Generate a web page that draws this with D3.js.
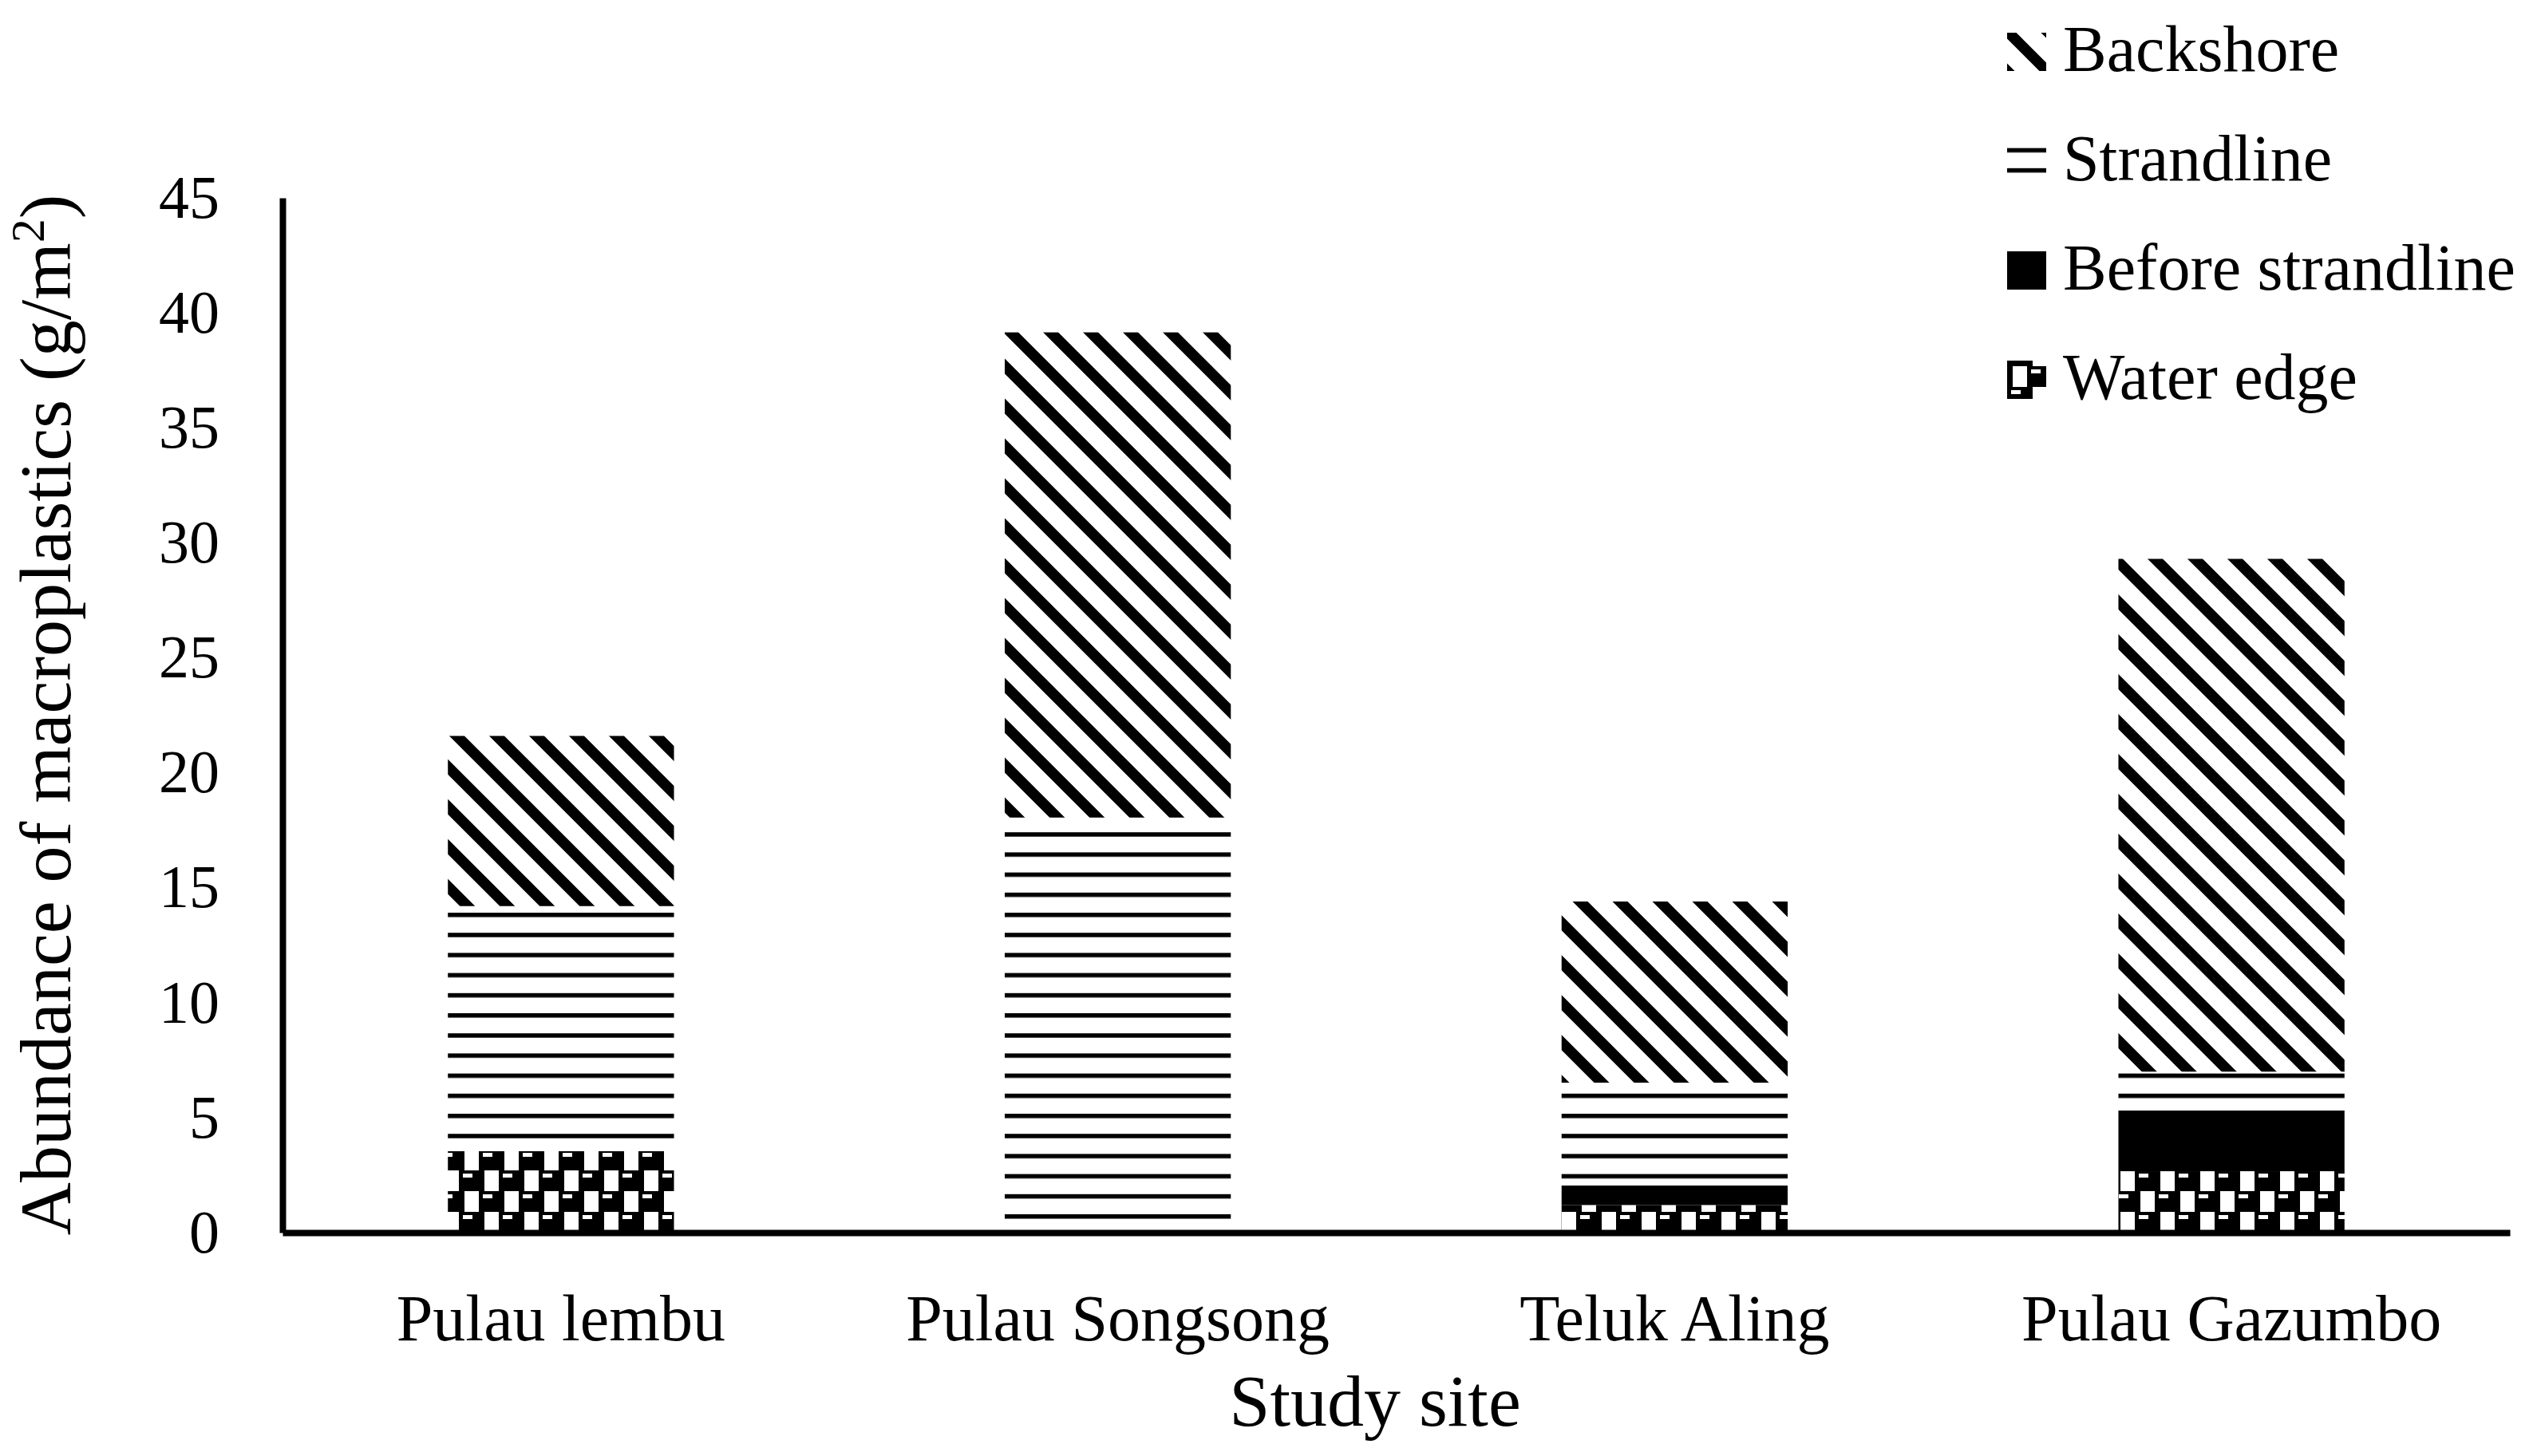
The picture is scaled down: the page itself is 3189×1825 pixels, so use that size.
<!DOCTYPE html>
<html>
<head>
<meta charset="utf-8">
<script src="https://cdn.jsdelivr.net/npm/d3@7"></script>
<style>
  body { margin: 0; background: #fff; }
  text { font-family: "Liberation Serif", "Times New Roman", serif; fill: #000; }
</style>
</head>
<body>
<div id="chart"></div>
<script>
// data (g/m2)
var sites = ["Pulau lembu", "Pulau Songsong", "Teluk Aling", "Pulau Gazumbo"];
var zones = ["Water edge", "Before strandline", "Strandline", "Backshore"];
var waterEdge = [3.54, 0, 1.2, 2.67];
var beforeStrandline = [0, 0, 0.85, 2.64];
var strandline = [10.66, 18.05, 4.47, 1.69];
var backshore = [7.4, 21.1, 7.88, 22.3];
var yTicks = [0, 5, 10, 15, 20, 25, 30, 35, 40, 45];

var width = 3189, height = 1825;
var margin = {top: 248, right: 44, bottom: 280, left: 354};

var svg = d3.select("#chart")
  .append("svg")
  .attr("width", width)
  .attr("height", height);

// fill patterns
var defs = svg.append("defs");

var pBack = defs.append("pattern")
  .attr("id", "pat-backshore")
  .attr("patternUnits", "userSpaceOnUse")
  .attr("width", 50).attr("height", 50);
pBack.append("rect").attr("width", 50).attr("height", 50).attr("fill", "#fff");
pBack.append("path")
  .attr("d", "M-10,-10L60,60M-10,40L10,60M40,-10L60,10")
  .attr("stroke", "#000")
  .attr("stroke-width", 13.5);

var pStrand = defs.append("pattern")
  .attr("id", "pat-strandline")
  .attr("patternUnits", "userSpaceOnUse")
  .attr("width", 50).attr("height", 25.2)
  .attr("y", 1545 - 23);
pStrand.append("rect").attr("width", 50).attr("height", 25.2).attr("fill", "#fff");
pStrand.append("rect").attr("y", 0).attr("width", 50).attr("height", 5.5).attr("fill", "#000");

var pWater = defs.append("pattern")
  .attr("id", "pat-water")
  .attr("patternUnits", "userSpaceOnUse")
  .attr("width", 50).attr("height", 52)
  .attr("y", 1545);
pWater.append("rect").attr("width", 50).attr("height", 52).attr("fill", "#fff");
// row A
pWater.append("rect").attr("x", 0).attr("y", 0).attr("width", 32).attr("height", 26).attr("fill", "#000");
pWater.append("rect").attr("x", 5).attr("y", 4).attr("width", 12).attr("height", 5).attr("fill", "#fff");
// row B (shifted half a tile)
pWater.append("rect").attr("x", 25).attr("y", 26).attr("width", 25).attr("height", 26).attr("fill", "#000");
pWater.append("rect").attr("x", 0).attr("y", 26).attr("width", 7).attr("height", 26).attr("fill", "#000");
pWater.append("rect").attr("x", 30).attr("y", 30).attr("width", 12).attr("height", 5).attr("fill", "#fff");

var fills = {
  "Water edge": "url(#pat-water)",
  "Before strandline": "#000",
  "Strandline": "url(#pat-strandline)",
  "Backshore": "url(#pat-backshore)"
};

// scales
var x = d3.scaleBand()
  .domain(sites)
  .range([margin.left, width - margin.right + 0])
  .paddingInner(0.594)
  .paddingOuter(0.297);

var y = d3.scaleLinear()
  .domain([0, 45])
  .range([1545, margin.top]);

var rows = sites.map(function (s, i) {
  return {
    site: s,
    "Water edge": waterEdge[i],
    "Before strandline": beforeStrandline[i],
    "Strandline": strandline[i],
    "Backshore": backshore[i]
  };
});

var series = d3.stack().keys(zones)(rows);

svg.append("g")
  .selectAll("g")
  .data(series)
  .enter()
  .append("g")
  .attr("fill", function (d) { return fills[d.key]; })
  .selectAll("rect")
  .data(function (d) { return d; })
  .enter()
  .append("rect")
  .attr("x", function (d) { return x(d.data.site); })
  .attr("y", function (d) { return y(d[1]); })
  .attr("width", x.bandwidth())
  .attr("height", function (d) { return y(d[0]) - y(d[1]); });

// y axis
var yAxis = svg.append("g")
  .attr("transform", "translate(" + margin.left + ",0)")
  .call(d3.axisLeft(y).tickValues(yTicks).tickSize(0).tickPadding(79));
yAxis.select(".domain").attr("stroke", "#000").attr("stroke-width", 8);
yAxis.selectAll("text")
  .style("font-family", "Liberation Serif")
  .attr("font-size", 76);

// x axis
var xAxis = svg.append("g")
  .attr("transform", "translate(0,1545)")
  .call(d3.axisBottom(x).tickSize(0).tickPadding(77));
xAxis.select(".domain").attr("stroke", "#000").attr("stroke-width", 8);
xAxis.selectAll("text")
  .style("font-family", "Liberation Serif")
  .attr("font-size", 82);

// axis titles
var yTitle = svg.append("text")
  .attr("transform", "translate(88,896) rotate(-90)")
  .attr("text-anchor", "middle")
  .attr("font-size", 92)
  .text("Abundance of macroplastics (g/m");
yTitle.append("tspan")
  .attr("baseline-shift", "super")
  .attr("font-size", 60)
  .text("2");
yTitle.append("tspan").text(")");

svg.append("text")
  .attr("x", 1723)
  .attr("y", 1787)
  .attr("text-anchor", "middle")
  .attr("font-size", 92)
  .text("Study site");

// legend
var legendKeys = ["Backshore", "Strandline", "Before strandline", "Water edge"];
var legend = svg.append("g")
  .selectAll("g")
  .data(legendKeys)
  .enter()
  .append("g")
  .attr("transform", function (d, i) { return "translate(2515," + (89 + i * 137) + ")"; });

legend.append("rect")
  .attr("x", 0)
  .attr("y", -48)
  .attr("width", 49)
  .attr("height", 48)
  .attr("fill", function (d) { return fills[d]; });

legend.append("text")
  .attr("x", 70)
  .attr("y", 0)
  .attr("font-size", 82)
  .text(function (d) { return d; });
</script>
</body>
</html>
